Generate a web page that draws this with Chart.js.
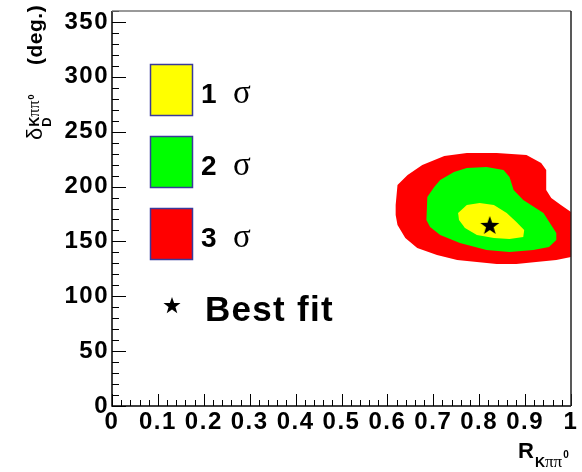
<!DOCTYPE html>
<html>
<head>
<meta charset="utf-8">
<script src="https://cdn.jsdelivr.net/npm/chart.js@4.4.1/dist/chart.umd.min.js"></script>
<style>
html, body { margin:0; padding:0; background:#fff; }
</style>
</head>
<body>
<canvas id="c" width="582" height="472"></canvas>
<script>
// tick labels
const xTicks = [0, 0.1, 0.2, 0.3, 0.4, 0.5, 0.6, 0.7, 0.8, 0.9, 1];
const yTicks = [0, 50, 100, 150, 200, 250, 300, 350];

// 3 sigma contour (R, delta)
const sig3R = [0.618, 0.622, 0.644, 0.676, 0.724, 0.773, 0.838, 0.903, 0.935, 0.946, 0.946, 0.957, 0.978, 1.0,
               1.0, 0.968, 0.924, 0.881, 0.838, 0.795, 0.752, 0.708, 0.665, 0.639, 0.622, 0.618, 0.618];
const sig3D = [183.2, 201.4, 210.6, 219.7, 227.9, 230.6, 230.6, 228.8, 221.5, 215.1, 196.9, 189.6, 183.2, 176.8,
               135.8, 133.1, 131.3, 129.4, 129.4, 131.3, 133.1, 137.6, 144.0, 153.1, 165.0, 174.1, 183.2];

// 2 sigma contour
const sig2R = [0.866, 0.875, 0.896, 0.940, 0.968, 0.968, 0.952, 0.918, 0.866, 0.816, 0.758, 0.715, 0.693, 0.685,
               0.687, 0.702, 0.715, 0.745, 0.773, 0.816, 0.853, 0.866];
const sig2D = [208.7, 196.9, 187.8, 175.9, 157.7, 151.3, 144.9, 142.2, 140.4, 142.2, 148.6, 155.9, 163.2, 169.5,
               190.5, 199.6, 206.0, 213.3, 216.9, 217.8, 215.1, 208.7];

// 1 sigma contour
const sig1R = [0.754, 0.773, 0.801, 0.832, 0.860, 0.881, 0.898, 0.896, 0.866, 0.832, 0.795, 0.769, 0.756, 0.754];
const sig1D = [175.9, 183.2, 185.0, 183.2, 175.9, 167.7, 160.4, 154.0, 152.2, 153.1, 155.9, 162.2, 169.5, 175.9];

// best fit
const bestR = [0.823];
const bestD = [165];

function pts(xs, ys){ return xs.map((v, i) => ({x: v, y: ys[i]})); }

// 五角星图片，用作数据点样式
function makeStar(r){
    const s = Math.ceil(r * 2) + 2;
    const c = document.createElement("canvas");
    c.width = s; c.height = s;
    const g = c.getContext("2d");
    g.translate(s / 2, s / 2 + r * 0.1);
    g.beginPath();
    for(let i = 0; i < 10; i++){
        const rad = i % 2 ? r * 0.4 : r;
        const ang = -Math.PI / 2 + i * Math.PI / 5;
        g.lineTo(rad * Math.cos(ang), rad * Math.sin(ang));
    }
    g.closePath();
    g.fillStyle = "#000";
    g.fill();
    return c;
}

const bigStar = makeStar(10);
const smallStar = makeStar(9);

const tickFont = {family:"Liberation Sans", weight:"bold", size:24};

function contour(pointsArr, color, order){
    return {
        data: pointsArr,
        showLine: true,
        fill: "shape",
        backgroundColor: color,
        borderColor: color,
        borderWidth: 0,
        pointRadius: 0,
        tension: 0,
        order: order
    };
}

// 刻度文字稍微拉宽
const spacing = {
    id: "spacing",
    beforeDraw(chart){ chart.ctx.letterSpacing = "1.5px"; }
};

// 内向刻度线 + 边框
const frameTicks = {
    id: "frameTicks",
    afterDatasetsDraw(chart){
        const {ctx, chartArea: a, scales: {x, y}} = chart;
        ctx.save();
        ctx.strokeStyle = "#000";
        ctx.lineWidth = 1;
        ctx.beginPath();
        for(let i = 0; i <= 50; i++){
            const px = Math.round(x.getPixelForValue(i / 50)) + 0.5;
            const len = i % 5 === 0 ? 12 : 6;
            ctx.moveTo(px, a.bottom);
            ctx.lineTo(px, a.bottom - len);
        }
        for(let v = 0; v <= 360; v += 10){
            const py = Math.round(y.getPixelForValue(v)) + 0.5;
            const len = v % 50 === 0 ? 14 : 7;
            ctx.moveTo(a.left, py);
            ctx.lineTo(a.left + len, py);
        }
        ctx.stroke();

        ctx.lineWidth = 1.5;
        ctx.strokeStyle = "#000";
        ctx.beginPath();
        ctx.moveTo(a.left, a.top);
        ctx.lineTo(a.left, a.bottom);
        ctx.lineTo(a.right, a.bottom);
        ctx.stroke();
        ctx.strokeStyle = "#777";
        ctx.beginPath();
        ctx.moveTo(a.left, a.top);
        ctx.lineTo(a.right, a.top);
        ctx.stroke();
        ctx.strokeStyle = "#222";
        ctx.beginPath();
        ctx.moveTo(a.right, a.top);
        ctx.lineTo(a.right, a.bottom);
        ctx.stroke();
        ctx.restore();
    }
};

// 图例与坐标轴标题
const annotations = {
    id: "annotations",
    afterDraw(chart){
        const ctx = chart.ctx;
        ctx.save();
        ctx.fillStyle = "#000";
        ctx.textAlign = "left";
        ctx.textBaseline = "alphabetic";
        ctx.letterSpacing = "0px";

        const boxes = [["#ffff00", "1", 64], ["#00ff00", "2", 136], ["#ff0000", "3", 208]];
        boxes.forEach(b => {
            ctx.fillStyle = b[0];
            ctx.fillRect(150.5, b[2] + 0.5, 42, 51);
            ctx.strokeStyle = "#3a3a9a";
            ctx.lineWidth = 1.5;
            ctx.strokeRect(150.5, b[2] + 0.5, 42, 51);
            ctx.fillStyle = "#000";
            ctx.font = "bold 28px 'Liberation Sans'";
            ctx.fillText(b[1], 201, b[2] + 39);
            ctx.font = "33px 'Liberation Serif'";
            ctx.fillText("σ", 233, b[2] + 39);
        });

        ctx.drawImage(smallStar, 172 - smallStar.width / 2, 305 - smallStar.height / 2);
        ctx.font = "bold 35px 'Liberation Sans'";
        ctx.letterSpacing = "1.3px";
        ctx.fillText("Best fit", 205, 321);
        ctx.letterSpacing = "0px";

        // x title
        ctx.font = "bold 22px 'Liberation Sans'";
        ctx.fillText("R", 518, 458);
        let xx = 518 + ctx.measureText("R").width + 1;
        ctx.font = "bold 14px 'Liberation Sans'";
        ctx.fillText("K", xx, 467);
        xx += ctx.measureText("K").width;
        ctx.font = "17px 'Liberation Serif'";
        ctx.fillText("ππ", xx, 467);
        xx += ctx.measureText("ππ").width + 1;
        ctx.font = "bold 10px 'Liberation Sans'";
        ctx.fillText("0", xx, 458);

        // y title
        ctx.translate(42, 140);
        ctx.rotate(-Math.PI / 2);
        ctx.font = "22px 'Liberation Sans'";
        ctx.fillText("δ", 0, 0);
        let p = ctx.measureText("δ").width + 1;
        ctx.font = "bold 13px 'Liberation Sans'";
        ctx.fillText("D", p, 9);
        ctx.font = "bold 14px 'Liberation Sans'";
        ctx.fillText("K", p, -3);
        let q = p + ctx.measureText("K").width;
        ctx.font = "16px 'Liberation Serif'";
        ctx.fillText("ππ", q, -3);
        q += ctx.measureText("ππ").width + 1;
        ctx.font = "bold 9px 'Liberation Sans'";
        ctx.fillText("0", q, -8);
        ctx.font = "bold 21px 'Liberation Sans'";
        ctx.letterSpacing = "0.5px";
        ctx.fillText("(deg.)", 75, 0);
        ctx.restore();
    }
};

new Chart(document.getElementById("c"), {
    type: "scatter",
    data: {
        datasets: [
            {
                data: pts(bestR, bestD),
                pointStyle: bigStar,
                pointRadius: 10,
                order: 0
            },
            contour(pts(sig1R, sig1D), "#ffff00", 1),
            contour(pts(sig2R, sig2D), "#00ff00", 2),
            contour(pts(sig3R, sig3D), "#ff0000", 3)
        ]
    },
    options: {
        responsive: false,
        animation: false,
        layout: {padding: {top: 8, right: 6, left: 0, bottom: 0}},
        plugins: {legend: {display: false}, tooltip: {enabled: false}},
        scales: {
            x: {
                type: "linear",
                min: 0,
                max: 1,
                grid: {display: false, drawTicks: false, tickLength: 0},
                border: {display: false},
                ticks: {
                    color: "#000",
                    font: tickFont,
                    padding: 2,
                    autoSkip: false,
                    maxRotation: 0,
                    callback: v => String(Math.round(v * 10) / 10)
                },
                afterBuildTicks: s => { s.ticks = xTicks.map(v => ({value: v})); },
                afterFit: s => { s.height = 66; s.paddingLeft = 0; s.paddingRight = 0; }
            },
            y: {
                type: "linear",
                min: 0,
                max: 360,
                grid: {display: false, drawTicks: false, tickLength: 0},
                border: {display: false},
                ticks: {
                    color: "#000",
                    font: tickFont,
                    padding: 3,
                    autoSkip: false,
                    callback: v => String(v)
                },
                afterBuildTicks: s => { s.ticks = yTicks.map(v => ({value: v})); },
                afterFit: s => { s.width = 112; s.paddingTop = 0; s.paddingBottom = 0; }
            }
        }
    },
    plugins: [spacing, frameTicks, annotations]
});
</script>
</body>
</html>
